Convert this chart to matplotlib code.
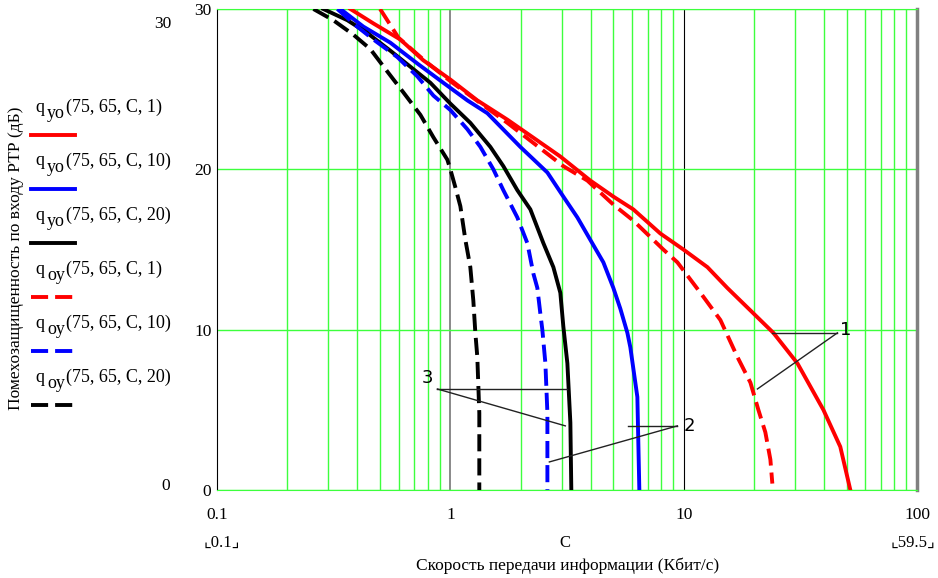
import numpy as np
import matplotlib.pyplot as plt

plt.rcParams['font.family'] = ['Liberation Serif', 'DejaVu Sans']
plt.rcParams['font.size'] = 12

# q_yo(75,65,C,1)  - red solid
yo1_c = [0.373, 0.468, 0.610, 0.766, 1.0, 1.305, 1.755, 2.36, 2.961, 3.981, 4.997, 6.087,
         7.94, 9.97, 12.64, 15.39, 19.32, 24.24, 30.73, 39.7, 46.9, 51.8]
yo1_q = [30, 29.1, 28.1, 26.8, 25.6, 24.3, 23.1, 21.8, 20.8, 19.3, 18.3, 17.5,
         16.0, 15.0, 13.9, 12.6, 11.2, 9.8, 7.9, 5.0, 2.7, 0]
# q_yo(75,65,C,10) - blue solid
yo10_c = [0.338, 0.424, 0.553, 0.722, 0.933, 1.183, 1.441, 1.995, 2.606, 3.05, 3.503, 3.981,
          4.527, 4.997, 5.355, 5.738, 5.908, 6.332, 6.457]
yo10_q = [30, 28.9, 27.9, 26.6, 25.4, 24.3, 23.5, 21.4, 19.8, 18.3, 17.0, 15.6,
          14.2, 12.6, 11.3, 9.8, 8.9, 5.8, 0]
# q_yo(75,65,C,20) - black solid
yo20_c = [0.2855, 0.362, 0.441, 0.553, 0.674, 0.821, 1.0, 1.218, 1.484, 1.687, 1.937, 2.203,
          2.504, 2.764, 2.961, 3.05, 3.174, 3.269, 3.30]
yo20_q = [30, 29.3, 28.5, 27.4, 26.4, 25.4, 24.1, 22.9, 21.4, 20.2, 18.7, 17.5,
          15.4, 13.9, 12.3, 10.2, 7.9, 4.2, 0]
# q_oy(75,65,C,1)  - red dashed
oy1_c = [0.50, 0.60, 0.766, 1.0, 1.755, 3.05, 3.866, 4.997, 6.087, 8.18, 9.40, 11.8, 14.37,
         16.99, 19.32, 20.9, 22.39, 23.53, 23.99]
oy1_q = [30, 28.2, 26.85, 25.5, 22.9, 20.2, 19.3, 17.8, 16.8, 15.0, 14.2, 12.3, 10.6,
         8.3, 6.7, 5.0, 3.6, 1.9, 0.4]
# q_oy(75,65,C,10) - blue dashed
oy10_c = [0.328, 0.399, 0.468, 0.593, 0.722, 0.846, 1.0, 1.183, 1.345, 1.529, 1.687, 1.937,
          2.138, 2.269, 2.36, 2.431, 2.479, 2.555, 2.606, 2.606]
oy10_q = [30, 28.9, 28.1, 27.0, 25.8, 24.6, 23.7, 22.5, 21.4, 20.0, 18.7, 17.0,
          15.4, 13.5, 12.6, 11.0, 10.0, 7.9, 4.8, 0]
# q_oy(75,65,C,20) - black dashed
oy20_c = [0.259, 0.315, 0.384, 0.454, 0.537, 0.629, 0.744, 0.846, 0.971, 1.0, 1.05, 1.104,
          1.160, 1.218, 1.255, 1.280, 1.305, 1.331, 1.331]
oy20_q = [30, 29.3, 28.4, 27.5, 26.1, 24.8, 23.4, 22.0, 20.6, 20.0, 18.9, 17.7,
          15.6, 13.9, 11.8, 9.8, 8.3, 4.8, 0]

series = [
    (yo1_c, yo1_q, 'red', '-', 'yo', '1'),
    (yo10_c, yo10_q, 'blue', '-', 'yo', '10'),
    (yo20_c, yo20_q, 'black', '-', 'yo', '20'),
    (oy1_c, oy1_q, 'red', '--', 'oy', '1'),
    (oy10_c, oy10_q, 'blue', '--', 'oy', '10'),
    (oy20_c, oy20_q, 'black', '--', 'oy', '20'),
]

# leader lines for curve numbers: (label, label pos, hub, ends)
marks = [
    ('1', (49.5, 10.0), (45.6, 9.8), [(24.0, 9.8), (20.7, 6.3)]),
    ('2', (10.6, 4.0), (9.4, 4.0), [(5.79, 4.0), (2.657, 1.75)]),
    ('3', (0.80, 7.0), (0.88, 6.3), [(3.17, 6.3), (3.11, 4.0)]),
]

green = '#3dff3d'
W, H = 938, 578
fig = plt.figure(figsize=(W / 100, H / 100), dpi=100)
ax = fig.add_axes([217 / W, 1 - 490 / H, 700 / W, 481 / H])
ax.set_xscale('log')
ax.set_xlim(0.1, 100)
ax.set_ylim(0, 30)

ax.set_xticks([0.1, 1, 10, 100])
ax.set_xticklabels(['0.1', '1', '10', '100'])
ax.set_xticks([m * d for d in (0.1, 1, 10) for m in range(2, 10)], minor=True)
ax.set_yticks([0, 10, 20, 30])
ax.tick_params(which='both', length=0, labelsize=12.5)
ax.tick_params(axis='x', pad=12)
ax.tick_params(axis='y', pad=4)
ax.grid(which='minor', axis='x', color=green, lw=1.0, zorder=0)
ax.grid(which='major', axis='y', color=green, lw=1.0, zorder=0)
ax.axvline(1, color='gray', lw=1.3, zorder=1)
ax.axvline(10, color='black', lw=0.8, zorder=1)
for s in ('top', 'bottom'):
    ax.spines[s].set_color(green)
ax.spines['left'].set_color('black')
ax.spines['right'].set_color('gray')
ax.spines['right'].set_linewidth(2.5)

for c, q, col, ls, sub, p in series:
    ln, = ax.plot(c, q, color=col, lw=2.8, zorder=3)
    if ls == '--':
        ln.set_dashes((4.4, 1.8))

for lab, lp, hub, ends in marks:
    for e in ends:
        ax.plot([hub[0], e[0]], [hub[1], e[1]], color='#222222', lw=1.0, zorder=4)
    ax.text(lp[0], lp[1], lab, fontsize=13, family=['DejaVu Sans'],
            ha='center', va='center', zorder=5)

# legend (Mathcad style, left of the plot)
for i, (c, q, col, ls, sub, p) in enumerate(series):
    ty = 1 - (107 + i * 54) / H
    ly = 1 - (135 + i * 54) / H
    fig.text(35 / W, ty, 'q', fontsize=13, va='center', ha='left')
    fig.text(47 / W, ty - 6 / H, sub, fontsize=13, va='center', ha='left')
    fig.text(66 / W, ty, '(75, 65, C, %s)' % p, fontsize=13, va='center', ha='left')
    ln = plt.Line2D([31 / W, 75 / W], [ly, ly], transform=fig.transFigure,
                    color=col, lw=2.8)
    if ls == '--':
        ln.set_dashes((4.4, 1.8))
    fig.add_artist(ln)

fig.text(16 / W, 1 - 258 / H, 'Помехозащищенность по входу РТР (дБ)', rotation=90,
         ha='center', va='center', fontsize=12.5)
fig.text(163 / W, 1 - 24 / H, '30', ha='center', va='center', fontsize=12.5)
fig.text(166 / W, 1 - 486 / H, '0', ha='center', va='center', fontsize=12.5)
fig.text(222 / W, 1 - 543 / H, '⌞0.1⌟', ha='center', va='center')
fig.text(565 / W, 1 - 543 / H, 'C', ha='center', va='center')
fig.text(913 / W, 1 - 543 / H, '⌞59.5⌟', ha='center', va='center')
fig.text(568 / W, 1 - 566 / H, 'Скорость передачи информации (Кбит/с)',
         ha='center', va='center', fontsize=12.5)

fig.savefig('out.png', dpi=100)
